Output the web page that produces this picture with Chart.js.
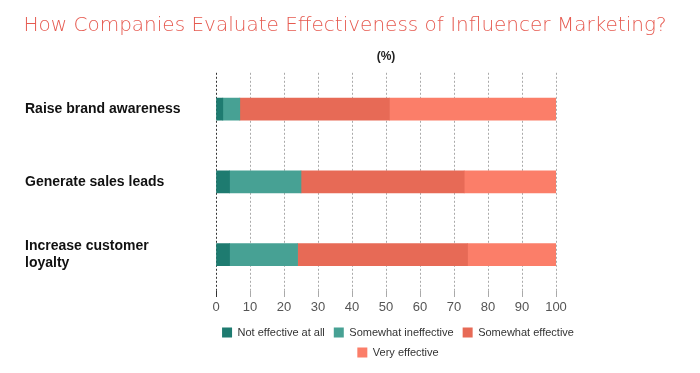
<!DOCTYPE html>
<html>
<head>
<meta charset="utf-8">
<script src="https://cdn.jsdelivr.net/npm/chart.js@4"></script>
<style>
  html, body { margin: 0; padding: 0; background: #fff; }
  #wrap { width: 700px; height: 373px; }
</style>
</head>
<body>
<div id="wrap"><canvas id="effectChart"></canvas></div>
<script>
const CATEGORIES = ['Raise brand awareness', 'Generate sales leads', ['Increase customer', 'loyalty']];

const NOT_EFFECTIVE = [2, 4, 4];
const SOMEWHAT_INEFFECTIVE = [5, 21, 20];
const SOMEWHAT_EFFECTIVE = [44, 48, 50];
const VERY_EFFECTIVE = [49, 27, 26];

const SERIES_NAMES = ['Not effective at all', 'Somewhat ineffective', 'Somewhat effective', 'Very effective'];
const SERIES_COLORS = ['#1e7b70', '#47a194', '#e76a56', '#fb7e69'];

// legend wraps into two rows and sits a little right of the plot centre, like the original;
// the title is centred on the whole picture rather than on the padded area
const blockPlacer = {
    id: 'blockPlacer',
    beforeLayout(chart) {
        const lg = chart.legend;
        if (lg && !lg._narrowed) {
            const fit = lg.fit;
            lg.fit = function () {
                this.maxWidth = Math.min(this.maxWidth, 400);
                fit.call(this);
            };
            lg._narrowed = true;
        }
    },
    afterLayout(chart) {
        const area = chart.chartArea;
        const lg = chart.legend;
        const w = lg.right - lg.left;
        const centre = (area.left + area.right) / 2 + 12;
        lg.left = centre - w / 2;
        lg.right = lg.left + w;

        const tb = chart.titleBlock;
        tb.left = 0;
        tb.right = chart.width - 10;
        tb.width = tb.right - tb.left;
    }
};

const data = {
    labels: CATEGORIES,
    datasets: [
        { label: SERIES_NAMES[0], data: NOT_EFFECTIVE, backgroundColor: SERIES_COLORS[0] },
        { label: SERIES_NAMES[1], data: SOMEWHAT_INEFFECTIVE, backgroundColor: SERIES_COLORS[1] },
        { label: SERIES_NAMES[2], data: SOMEWHAT_EFFECTIVE, backgroundColor: SERIES_COLORS[2] },
        { label: SERIES_NAMES[3], data: VERY_EFFECTIVE, backgroundColor: SERIES_COLORS[3] }
    ]
};

const config = {
    type: 'bar',
    data: data,
    plugins: [blockPlacer],
    options: {
        indexAxis: 'y',
        responsive: true,
        maintainAspectRatio: false,
        animation: false,
        barThickness: 22,
        borderWidth: 0,
        layout: {
            padding: { left: 25, right: 144, top: 0, bottom: 5 }
        },
        scales: {
            x: {
                stacked: true,
                min: 0,
                max: 100,
                ticks: {
                    stepSize: 10,
                    padding: 4,
                    color: '#555',
                    font: { family: 'Liberation Sans', size: 13, lineHeight: 1.0 }
                },
                grid: {
                    color: (ctx) => ctx.index === 0 ? '#333' : '#aaa',
                    tickLength: 6
                },
                border: { display: false, dash: [2, 2] }
            },
            x2: {
                position: 'top',
                min: 0,
                max: 100,
                ticks: { display: false },
                grid: { display: false, drawTicks: false },
                border: { display: false },
                title: {
                    display: true,
                    text: '(%)',
                    color: '#222',
                    font: { family: 'Liberation Sans', size: 12, weight: 'bold' },
                    padding: { top: 5, bottom: 9 }
                }
            },
            y: {
                stacked: true,
                grid: { display: false },
                border: { display: false },
                ticks: {
                    crossAlign: 'far',
                    color: '#111',
                    font: { family: 'Liberation Sans', size: 14, weight: 'bold', lineHeight: 1.2 }
                },
                afterFit: (scale) => { scale.width = 191; }
            }
        },
        plugins: {
            title: {
                display: true,
                text: 'How Companies Evaluate Effectiveness of Influencer Marketing?',
                color: '#e65a50',
                font: { family: 'DejaVu Sans', size: 20, weight: 200 },
                padding: { top: 14, bottom: 6.4 }
            },
            legend: {
                position: 'bottom',
                labels: {
                    boxWidth: 10,
                    boxHeight: 10,
                    padding: 9,
                    color: '#333',
                    font: { family: 'Liberation Sans', size: 11 }
                }
            },
            tooltip: { enabled: false }
        }
    }
};

var effectChart = new Chart(
    document.getElementById('effectChart'),
    config
);
</script>
</body>
</html>
